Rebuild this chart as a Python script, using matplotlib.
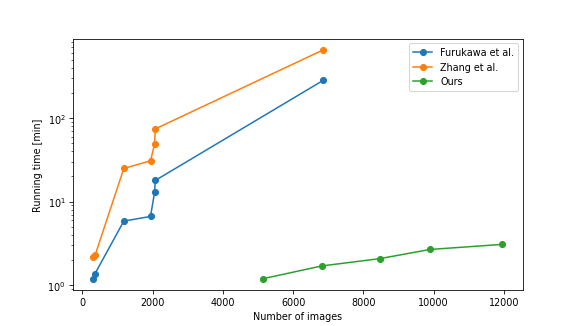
import matplotlib
matplotlib.use("Agg")
import matplotlib.pyplot as plt

furukawa_x = [305, 362, 1180, 1940, 2056, 2075, 6850]
furukawa_y = [1.2, 1.38, 5.85, 6.65, 12.9, 17.9, 281]
zhang_x = [305, 362, 1180, 1940, 2056, 2075, 6850]
zhang_y = [2.17, 2.28, 24.9, 30.8, 48.6, 74, 651]
ours_x = [5150, 6810, 8460, 9900, 11950]
ours_y = [1.2, 1.70, 2.08, 2.68, 3.08]

plt.rcParams['font.size'] = 9.5

fig, ax = plt.subplots(figsize=(8, 4.5), dpi=72.6)
ax.plot(furukawa_x, furukawa_y, marker='o', label='Furukawa et al.')
ax.plot(zhang_x, zhang_y, marker='o', label='Zhang et al.')
ax.plot(ours_x, ours_y, marker='o', label='Ours')
ax.set_yscale('log')
ax.set_xlabel('Number of images')
ax.set_ylabel('Running time [min]')
ax.legend(loc='upper right')
fig.savefig('out.png', dpi=72.6)
